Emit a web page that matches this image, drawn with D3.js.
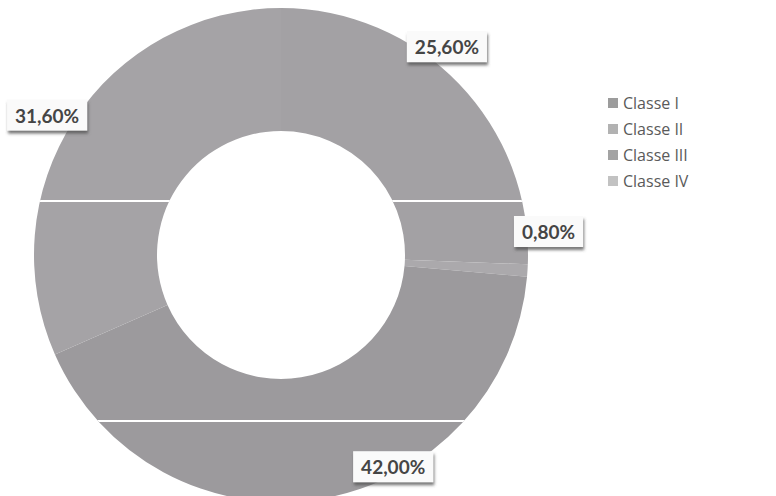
<!DOCTYPE html>
<html>
<head>
<meta charset="utf-8">
<script src="https://cdn.jsdelivr.net/npm/d3@7"></script>
<style>
  body { margin: 0; background: #fff; }
  svg { display: block; }
</style>
</head>
<body>
<svg id="chart" width="776" height="496"></svg>
<script>
const categories = ["Classe I", "Classe II", "Classe III", "Classe IV"];
const shares = [25.6, 0.8, 42.0, 31.6];
const valueLabels = ["25,60%", "0,80%", "42,00%", "31,60%"];

// scanned greys, slightly purplish
const sliceColors = ["#a3a1a4", "#aba9ac", "#9c9a9d", "#a5a3a6"];
const legendColors = ["#9c9c9c", "#b2b2b2", "#a3a3a3", "#c2c2c2"];
// label nudges away from the outer edge of each slice
const labelNudge = [[-12, -37], [21, -39], [72, -32], [-27, -5]];

const svg = d3.select("#chart");
const cx = 281, cy = 255, outerR = 247, innerR = 124;

const defs = svg.append("defs");
const shadow = defs.append("filter").attr("id", "shadow")
    .attr("x", "-20%").attr("y", "-20%").attr("width", "140%").attr("height", "160%");
shadow.append("feDropShadow")
    .attr("dx", 1).attr("dy", 3).attr("stdDeviation", 1.5)
    .attr("flood-color", "#555").attr("flood-opacity", 0.8);

const pie = d3.pie().sort(null).value(d => d);
const arcs = pie(shares);
const arc = d3.arc().innerRadius(innerR).outerRadius(outerR);
const edge = d3.arc().innerRadius(outerR).outerRadius(outerR);

const g = svg.append("g").attr("transform", `translate(${cx},${cy})`);

g.selectAll("path.slice")
    .data(arcs)
    .join("path")
    .attr("class", "slice")
    .attr("d", arc)
    .attr("fill", (d, i) => sliceColors[i]);

// scanner streaks across the ring
defs.append("clipPath").attr("id", "ring")
    .append("path")
    .attr("d", d3.arc().innerRadius(innerR).outerRadius(outerR).startAngle(0).endAngle(2 * Math.PI)());
g.append("g").attr("clip-path", "url(#ring)")
    .selectAll("line")
    .data([-54, 166])
    .join("line")
    .attr("x1", -outerR).attr("x2", outerR)
    .attr("y1", d => d).attr("y2", d => d)
    .attr("stroke", "#fff").attr("stroke-width", 2);

// data labels
const labels = g.selectAll("g.label")
    .data(arcs)
    .join("g")
    .attr("class", "label")
    .attr("transform", (d, i) => {
        const [x, y] = edge.centroid(d);
        return `translate(${x + labelNudge[i][0]},${y + labelNudge[i][1]})`;
    });

labels.each(function (d, i) {
    const lg = d3.select(this);
    const box = lg.append("rect").attr("fill", "#fafafa").attr("filter", "url(#shadow)");
    const t = lg.append("text")
        .attr("text-anchor", "middle")
        .attr("dominant-baseline", "central")
        .style("font-family", "Lato, 'Open Sans', sans-serif")
        .style("font-weight", "bold")
        .style("font-size", "19px")
        .attr("fill", "#454545")
        .text(valueLabels[i]);
    const bb = t.node().getBBox();
    box.attr("x", bb.x - 8).attr("y", bb.y - 4)
        .attr("width", bb.width + 16).attr("height", bb.height + 8);
});

// legend
const legend = svg.append("g").attr("transform", "translate(608,103)");
const rows = legend.selectAll("g")
    .data(categories)
    .join("g")
    .attr("transform", (d, i) => `translate(0,${i * 26})`);
rows.append("rect")
    .attr("x", 0).attr("y", -5).attr("width", 10).attr("height", 10)
    .attr("fill", (d, i) => legendColors[i]);
rows.append("text")
    .attr("x", 15)
    .attr("dominant-baseline", "central")
    .style("font-family", "'Open Sans', sans-serif")
    .style("font-size", "16px")
    .attr("fill", "#5a5a5a")
    .text(d => d);
</script>
</body>
</html>
